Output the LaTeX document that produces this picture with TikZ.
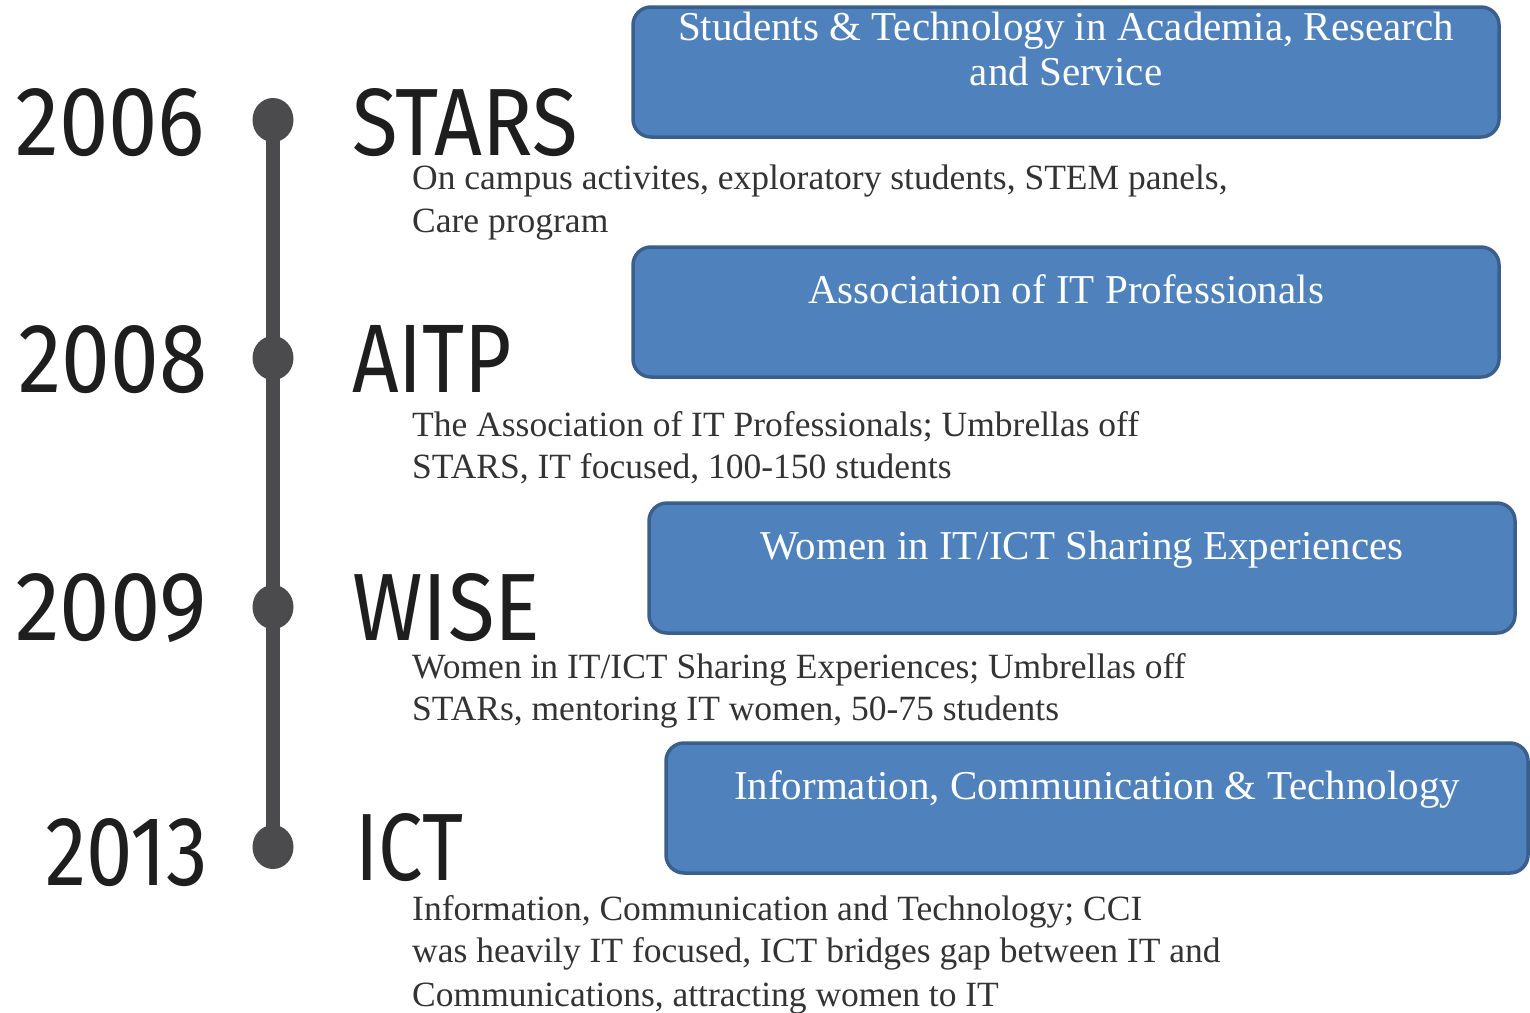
\documentclass[tikz,border=0pt]{standalone}
\usepackage{fontspec}
\usepackage{graphicx}
\usetikzlibrary{shapes.geometric}
\setmainfont{Liberation Serif}
\newfontfamily\bigfont{Fira Sans}
\definecolor{boxblue}{HTML}{4F81BD}
\definecolor{boxedge}{HTML}{3A5F8C}
\definecolor{linegray}{HTML}{4B4B4D}
\definecolor{labelblack}{HTML}{1E1E1E}
\definecolor{bodytext}{HTML}{333333}
\newcommand{\fitlabel}[3]{\resizebox{#1pt}{#2pt}{\bigfont #3}}
\begin{document}
\begin{tikzpicture}[x=1pt,y=-1pt,
  bx/.style={draw=boxedge, fill=boxblue, line width=3.5pt, rounded corners=18pt,
    minimum width=#1, minimum height=130pt, inner sep=0pt},
  bxtext/.style={anchor=base, inner sep=0pt, text=white, font=\fontsize{41}{46}\selectfont},
  body/.style={anchor=base west, inner sep=0pt, text=bodytext, text height=24pt,
    font=\fontsize{35.5}{40}\selectfont},
  biglabel/.style={anchor=base west, inner sep=0pt, text=labelblack},
  dot/.style={ellipse, fill=linegray, minimum width=41pt, minimum height=44pt, inner sep=0pt}
]
\useasboundingbox (0,0) rectangle (1530,1012);

% timeline
\node[dot] (d1) at (273,120) {};
\node[dot] (d2) at (273,358) {};
\node[dot] (d3) at (273,607) {};
\node[dot] (d4) at (273,847) {};
\draw[linegray, line width=13.5pt] (d1.center) -- (d4.center);

% years
\node[biglabel] (y1) at (15,155) {\fitlabel{190}{67}{2006}};
\node[biglabel] (y2) at (18,392) {\fitlabel{189}{67}{2008}};
\node[biglabel] (y3) at (15,640) {\fitlabel{192}{67}{2009}};
\node[biglabel] (y4) at (45,885) {\fitlabel{163}{67}{2013}};

% names
\node[biglabel] (n1) at (352,155) {\fitlabel{226}{67}{STARS}};
\node[biglabel] (n2) at (352,392) {\fitlabel{160}{67}{AITP}};
\node[biglabel] (n3) at (352,640) {\fitlabel{188}{67}{WISE}};
\node[biglabel] (n4) at (355,880) {\fitlabel{108}{67}{ICT}};

% descriptions
\node[body] (s1a) at (412,189) {On campus activites, exploratory students, STEM panels,};
\node[body] (s1b) at (412,232) {Care program};
\node[body] (s2a) at (412,436) {The Association of IT Professionals; Umbrellas off};
\node[body] (s2b) at (412,478) {STARS, IT focused, 100-150 students};
\node[body] (s3a) at (412,678) {Women in IT/ICT Sharing Experiences; Umbrellas off};
\node[body] (s3b) at (412,720) {STARs, mentoring IT women, 50-75 students};
\node[body] (s4a) at (412,920) {Information, Communication and Technology; CCI};
\node[body] (s4b) at (412,962) {was heavily IT focused, ICT bridges gap between IT and};
\node[body] (s4c) at (412,1006) {Communications, attracting women to IT};

% boxes
\node[bx=866pt] (b1) at (1066,72) {};
\node[bxtext] (t1a) at (1066,40) {Students \& Technology in Academia, Research};
\node[bxtext] (t1b) at (1066,85) {and Service};
\node[bx=866pt] (b2) at (1066,312) {};
\node[bxtext] (t2) at (1066,303) {Association of IT Professionals};
\node[bx=866pt] (b3) at (1082,568) {};
\node[bxtext] (t3) at (1082,559) {Women in IT/ICT Sharing Experiences};
\node[bx=862pt] (b4) at (1097,808) {};
\node[bxtext] (t4) at (1097,799) {Information, Communication \& Technology};
\end{tikzpicture}
\end{document}
